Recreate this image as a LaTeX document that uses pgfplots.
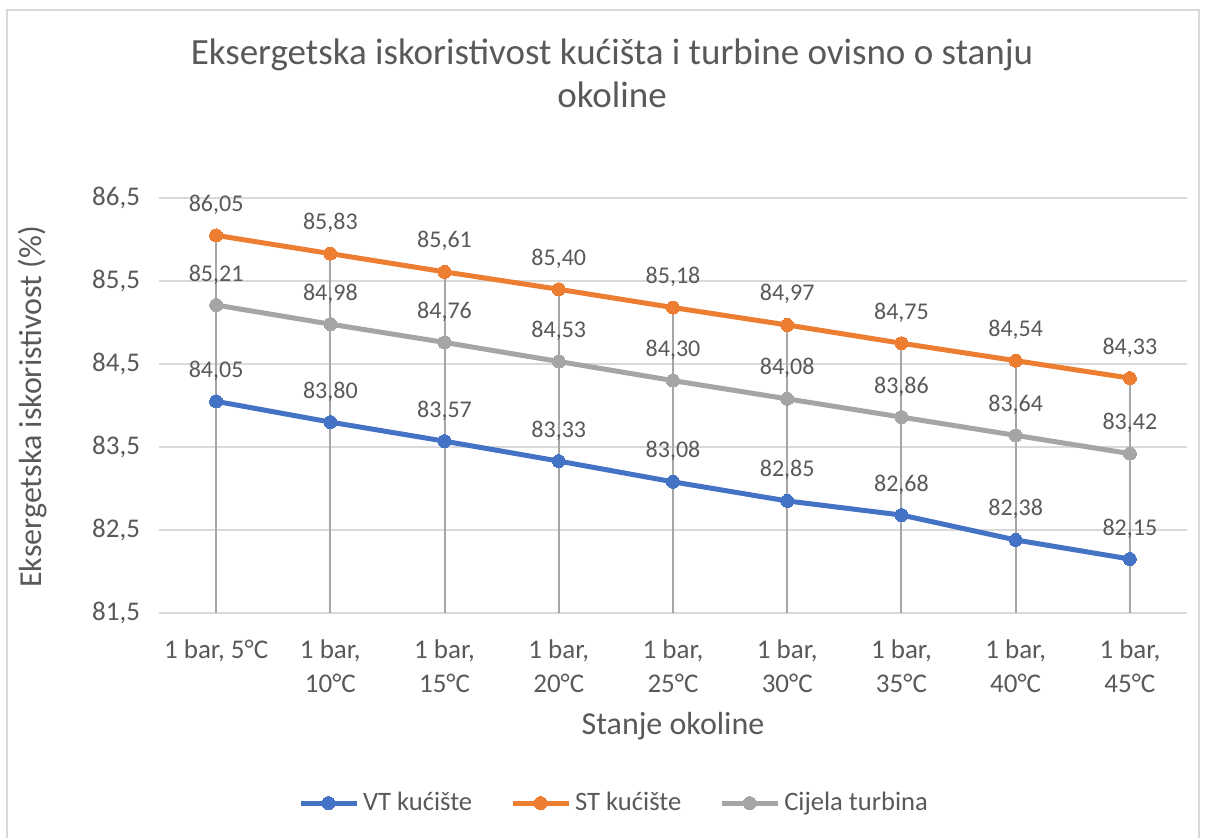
\documentclass[border=0pt]{standalone}
\usepackage{pgfplots}
\pgfplotsset{compat=1.18}
\usepackage{pgfplotstable}
\usepackage{fontspec}
\setmainfont{Carlito}

\definecolor{vtblue}{HTML}{4472C4}
\definecolor{storange}{HTML}{ED7D31}
\definecolor{cjgray}{HTML}{A5A5A5}
\definecolor{txtgray}{HTML}{595959}
\definecolor{gridgray}{HTML}{D9D9D9}
\definecolor{dropgray}{HTML}{A6A6A6}

% Eksergetska iskoristivost (%) po stanju okoline
\pgfplotstableread{
x  VT     ST     CT
0  84.05  86.05  85.21
1  83.80  85.83  84.98
2  83.57  85.61  84.76
3  83.33  85.40  84.53
4  83.08  85.18  84.30
5  82.85  84.97  84.08
6  82.68  84.75  83.86
7  82.38  84.54  83.64
8  82.15  84.33  83.42
}\eff

\pgfplotsset{
  serie/.style={#1, line width=2.5pt, mark=*, mark size=3.25pt,
    mark options={fill=#1, draw=#1, line width=0pt},
    nodes near coords,
    every node near coord/.append style={/pgf/number format/precision=2,
      anchor=base, yshift=12pt, font=\fontsize{12}{14}\selectfont, text=txtgray}},
}

\begin{document}
\begin{tikzpicture}[x=1pt,y=1pt]
% page and chart frame
\useasboundingbox (0,0) rectangle (603,419);
\draw[gridgray, line width=1pt] (3.5,0) -- (3.5,414) -- (599.5,414) -- (599.5,0);

% title
\node[anchor=base, font=\fontsize{18.5}{22}\selectfont, text=txtgray] at (306,386.5)
  {Eksergetska iskoristivost kućišta i turbine ovisno o stanju};
\node[anchor=base, font=\fontsize{18.5}{22}\selectfont, text=txtgray] at (306,365)
  {okoline};

\begin{axis}[
  at={(79.5pt,112.5pt)}, anchor=south west,
  scale only axis, width=514pt, height=207.5pt,
  xmin=-0.5, xmax=8.5, ymin=81.5, ymax=86.5,
  clip=false,
  xtick=data,
  xticklabels={{1 bar, 5°C},{1 bar,\\10°C},{1 bar,\\15°C},{1 bar,\\20°C},{1 bar,\\25°C},{1 bar,\\30°C},{1 bar,\\35°C},{1 bar,\\40°C},{1 bar,\\45°C}},
  ytick={81.5,82.5,83.5,84.5,85.5,86.5},
  /pgf/number format/use comma,
  /pgf/number format/fixed,
  /pgf/number format/fixed zerofill,
  /pgf/number format/assume math mode=true,
  yticklabel style={/pgf/number format/precision=1, xshift=-6pt},
  tick style={draw=none},
  major tick length=0pt,
  ymajorgrids, grid style={gridgray, line width=1pt},
  axis x line*=bottom,
  axis y line*=left,
  x axis line style={draw=gridgray, line width=1pt, -},
  y axis line style={draw=none},
  ticklabel style={font=\fontsize{13.5}{17}\selectfont, text=txtgray},
  xticklabel style={align=center, yshift=-10pt},
  legend columns=3,
  legend style={draw=none, fill=none, at={(0.4436,-0.458)}, anchor=center,
    font=\fontsize{13.3}{15}\selectfont, text=txtgray,
    /tikz/every even column/.append style={column sep=17pt}},
  legend image code/.code={\draw[mark repeat=2, mark phase=2, #1]
    plot coordinates {(0pt,0pt) (14pt,0pt) (28pt,0pt)};},
]
\addplot[serie=vtblue] table[x=x, y=VT] {\eff};
\addlegendentry{VT kućište}
\addplot[serie=storange] table[x=x, y=ST] {\eff};
\addlegendentry{ST kućište}
\addplot[serie=cjgray] table[x=x, y=CT] {\eff};
\addlegendentry{Cijela turbina}
% drop lines from the highest series down to the x axis
\addplot[draw=none, mark=none, forget plot,
  error bars/.cd, y dir=minus, y explicit,
  error mark=none, error bar style={dropgray, line width=1pt}]
  table[x=x, y=ST, y error expr={\thisrow{ST}-81.5}] {\eff};
\end{axis}

% axis titles
\node[anchor=base, rotate=90, font=\fontsize{16}{19}\selectfont, text=txtgray] at (20.5,215.5)
  {Eksergetska iskoristivost (\%)};
\node[anchor=base, font=\fontsize{16}{19}\selectfont, text=txtgray] at (336.5,51.5)
  {Stanje okoline};
\end{tikzpicture}
\end{document}
